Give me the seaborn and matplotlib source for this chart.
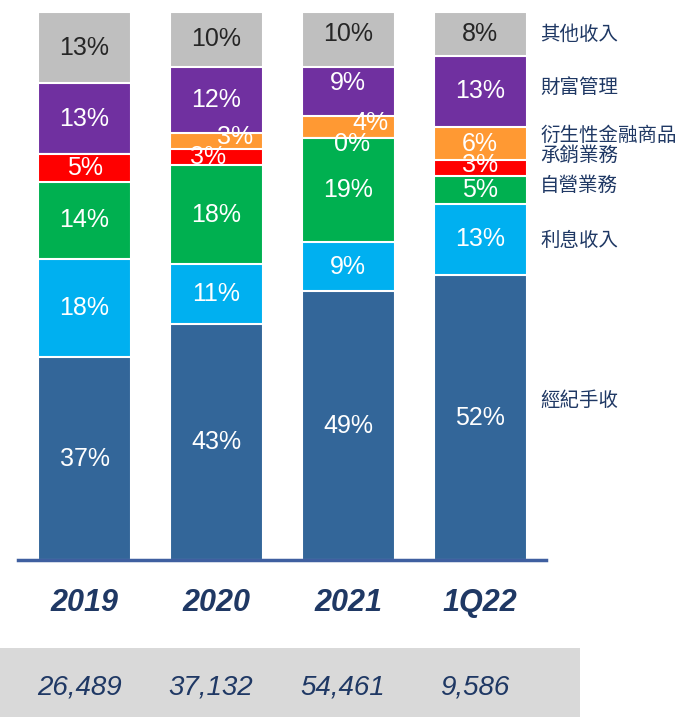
import numpy as np
import pandas as pd
import matplotlib.pyplot as plt
import seaborn as sns
from matplotlib.patches import Rectangle

# data (percent of net revenue, bottom -> top)
periods = ["2019", "2020", "2021", "1Q22"]
totals = ["26,489", "37,132", "54,461", "9,586"]
segments = ["經紀手收", "利息收入", "自營業務", "承銷業務", "衍生性金融商品", "財富管理", "其他收入"]
brokerage = [37, 43, 49, 52]
interest = [18, 11, 9, 13]
prop_trading = [14, 18, 19, 5]
underwriting = [5, 3, 0, 3]
derivatives = [np.nan, 3, 4, 6]
wealth_mgmt = [13, 12, 9, 13]
other = [13, 10, 10, 8]

colors = ["#336699", "#00B0F0", "#00B050", "#FF0000", "#FF9933", "#7030A0", "#BFBFBF"]
navy = "#1F3864"

df = pd.DataFrame(
    [brokerage, interest, prop_trading, underwriting, derivatives, wealth_mgmt, other],
    index=segments, columns=periods,
)
cum = df.fillna(0).cumsum()

sns.set_style("white")
plt.rcParams["font.family"] = ["Liberation Sans", "DejaVu Sans"]

fig = plt.figure(figsize=(6.92, 7.17), dpi=100)
ax = fig.add_axes([18 / 692, 157 / 717, 528 / 692, 548 / 717])

# stacked bars: draw cumulative totals from the top segment down
for seg, col in reversed(list(zip(segments, colors))):
    sns.barplot(x=periods, y=cum.loc[seg].values, color=col, saturation=1,
                width=0.705, edgecolor="white", linewidth=1.5, ax=ax)

# small nudges for crowded labels (dx in category units, dy in %)
nudge = {("2020", "衍生性金融商品"): (0.14, 0.7),
         ("2020", "承銷業務"): (-0.06, 0.0),
         ("2021", "衍生性金融商品"): (0.17, 0.7),
         ("2021", "承銷業務"): (0.03, -1.1),
         ("2021", "財富管理"): (0.0, 1.5),
         ("2021", "其他收入"): (0.0, 1.0),
         ("1Q22", "承銷業務"): (0.0, 0.5)}

for i, p in enumerate(periods):
    for seg in segments:
        v = df.loc[seg, p]
        if np.isnan(v):
            continue
        top = cum.loc[seg, p]
        dx, dy = nudge.get((p, seg), (0, 0))
        tcol = "#262626" if seg == "其他收入" else "white"
        ax.text(i + dx, top - v / 2 + dy, f"{int(v)}%", ha="center", va="center",
                fontsize=18, color=tcol)

ax.set_xlim(-0.505, 3.50)
ax.set_ylim(0, 100)
ax.set_yticks([])
ax.set_xlabel("")
ax.set_ylabel("")
for s in ["top", "left", "right"]:
    ax.spines[s].set_visible(False)
ax.spines["bottom"].set_color("#3F5FA0")
ax.spines["bottom"].set_linewidth(2.5)
ax.tick_params(axis="x", length=0, pad=20)
ax.set_xticks(range(len(periods)))
ax.set_xticklabels(periods, fontsize=22, fontweight="bold", fontstyle="italic", color=navy)

# segment names on the right
label_y = [29.1, 58.3, 68.4, 73.9, 77.5, 86.3, 96.0]
for seg, y in zip(segments, label_y):
    ax.text(3.455, y, seg, ha="left", va="center", fontsize=14, color=navy,
            family=["Noto Sans CJK TC", "DejaVu Sans"], fontstyle="italic", clip_on=False)

# grey totals strip
fig.patches.append(Rectangle((0, 0), 580 / 692, 69 / 717, transform=fig.transFigure,
                             facecolor="#D9D9D9", edgecolor="none", zorder=0))
for i, t in enumerate(totals):
    x = ax.transData.transform((i, 0))[0] / fig.dpi / 6.92
    fig.text(x - 0.008, 30 / 717, t, ha="center", va="center", fontsize=20,
             fontstyle="italic", color=navy)

fig.savefig("out.png", dpi=100)
